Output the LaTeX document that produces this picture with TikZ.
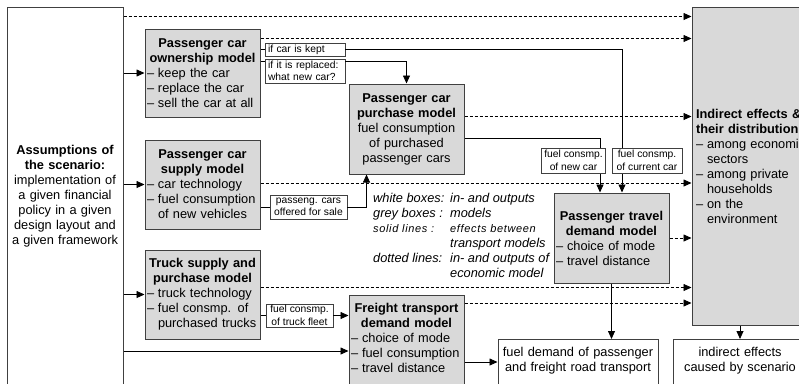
\documentclass[tikz,border=0pt]{standalone}
\usepackage{fontspec}
\setmainfont{Liberation Sans}
\usetikzlibrary{arrows.meta}

\definecolor{boxgray}{RGB}{64,64,64}
\definecolor{boxfill}{RGB}{217,217,217}

\newcommand{\mhead}[1]{{\centering\bfseries #1\par}}
\newcommand{\mitem}{\makebox[11pt][l]{--}}
\newcommand{\mcont}{\hspace*{11pt}}

\tikzset{
	model/.style={draw=boxgray, fill=boxfill, line width=1pt, inner sep=2pt,
		align=left, font=\fontsize{12.8}{15}\selectfont},
	io/.style={draw=boxgray, fill=white, line width=1pt, inner sep=2pt,
		align=center, font=\fontsize{12.8}{15}\selectfont},
	lab/.style={draw=boxgray, fill=white, line width=0.8pt, inner xsep=3pt, inner ysep=0.5pt,
		font=\fontsize{10.3}{12.5}\selectfont},
	arr/.style={line width=0.8pt, -{Triangle[length=8pt,width=7pt]}},
	flow/.style={line width=0.8pt},
	dline/.style={line width=0.8pt, dash pattern=on 3pt off 2pt, -{Triangle[length=8pt,width=7pt]}}
}

\begin{document}
\begin{tikzpicture}[x=1pt, y=-1pt]
	\useasboundingbox (0,0) rectangle (799,383);

	\node[io, text width=112pt, minimum width=116pt, minimum height=378pt] (assump) at (65,196)
		{\textbf{Assumptions of}\\\textbf{the scenario:}\\implementation of\\a given financial\\policy in a given\\design layout and\\a given framework};
	\node[model, text width=111pt, minimum width=115pt, minimum height=88pt] (own) at (202.5,73)
		{\mhead{Passenger car\\ownership model}\mitem keep the car\\\mitem replace the car\\\mitem sell the car at all};
	\node[model, text width=111pt, minimum width=115pt, minimum height=89pt] (sup) at (202.5,184.5)
		{\mhead{Passenger car\\supply model}\mitem car technology\\\mitem fuel consumption\\\mcont of new vehicles};
	\node[model, text width=111pt, minimum width=115pt, minimum height=89pt] (truck) at (202.5,294.5)
		{\mhead{Truck supply and\\purchase model}\mitem truck technology\\\mitem fuel consmp. of\\\mcont purchased trucks};
	\node[model, align=center, text width=111pt, minimum width=115pt, minimum height=90pt] (purch) at (406.5,129)
		{\textbf{Passenger car}\\\textbf{purchase model}\\fuel consumption\\of purchased\\passenger cars};
	\node[model, text width=111pt, minimum width=115pt, minimum height=90pt] (ptd) at (611.5,238)
		{\mhead{Passenger travel\\demand model}\mitem choice of mode\\\mitem travel distance};
	\node[model, text width=111pt, minimum width=115pt, anchor=north, text height=15pt, text depth=75pt] (freight) at (406.5,295)
		{\mhead{Freight transport\\demand model}\mitem choice of mode\\\mitem fuel consumption\\\mitem travel distance};
	\node[model, text width=150pt, minimum width=158pt, minimum height=318pt] (indir) at (771,166)
		{\textbf{Indirect effects \&}\\\textbf{their distribution}\\\mitem among economic\\\mcont sectors\\\mitem among private\\\mcont households\\\mitem on the\\\mcont environment};
	\node[io, text width=156pt, minimum width=160pt, anchor=north, text height=15pt, text depth=45pt] (fueldem) at (578,339)
		{fuel demand of passenger\\and freight road transport};
	\node[io, text width=130pt, minimum width=134pt, anchor=north, text height=15pt, text depth=45pt] (indres) at (740,339)
		{indirect effects\\caused by scenario};

	\node[lab, text width=74pt, align=left, minimum height=13pt] (kept) at (305,49.5) {if car is kept};
	\node[lab, text width=74pt, align=left, minimum height=24pt] (repl) at (305,71) {if it is replaced:\\what new car?};
	\node[lab, align=center, minimum width=77pt, minimum height=24pt] (offer) at (308.5,207) {passeng. cars\\offered for sale};
	\node[lab, align=center, minimum width=67pt, minimum height=23pt] (fleet) at (299.5,315.5) {fuel consmp.\\of truck fleet};

	\node[anchor=north west, inner sep=0pt, align=left, font=\itshape\fontsize{12.8}{15}\selectfont] (legend) at (373,193)
		{\makebox[77pt][l]{white boxes:}in- and outputs\\
		\makebox[77pt][l]{grey boxes :}models\\
		{\fontsize{11}{15}\selectfont\addfontfeatures{LetterSpace=6}\makebox[77pt][l]{solid lines :}effects between}\\
		\makebox[77pt][l]{}transport models\\
		\makebox[77pt][l]{dotted lines:}in- and outputs of\\
		\makebox[77pt][l]{}economic model};

	\draw[dline] ([yshift=-10pt]assump.north east) -- ([yshift=-10pt]assump.north east -| indir.west);
	\draw[arr] (assump.east |- own.west) -- (own.west);
	\draw[arr] (assump.east |- sup.west) -- (sup.west);
	\draw[arr] (assump.east |- truck.west) -- (truck.west);
	\draw[arr] ([yshift=-56pt]freight.north west -| assump.east) -- ([yshift=-56pt]freight.north west);

	\draw[dline] ([yshift=-10pt]own.north east) -- ([yshift=-10pt]own.north east -| indir.west);
	\draw[flow] (own.east |- kept.west) -- (kept.west);
	\draw[flow] ([yshift=-3pt]repl.north west -| own.east) -- ([yshift=-3pt]repl.north west);
	\draw[arr] (kept.east) -| ([xshift=10.5pt]ptd.north);
	\draw[arr] ([yshift=-3pt]repl.north east) -| (purch.north);

	\draw[dline] ([yshift=-33pt]purch.north east) -- ([yshift=-33pt]purch.north east -| indir.west);
	\draw[arr] ([yshift=-55pt]purch.north east) -| ([xshift=-11.5pt]ptd.north);

	\draw[dline] ([yshift=1.5pt]sup.east) -- ([yshift=1.5pt]sup.east -| indir.west);
	\draw[flow] (sup.east |- offer.west) -- (offer.west);
	\draw[arr] (offer.east) -| ([xshift=18pt]purch.south west);

	\draw[dline] ([yshift=-38pt]truck.north east) -- ([yshift=-38pt]truck.north east -| indir.west);
	\draw[flow] (truck.east |- fleet.west) -- (fleet.west);
	\draw[arr] (fleet.east) -- (fleet.east -| freight.west);

	\draw[dline] ([yshift=-8pt]freight.north east) -- ([yshift=-8pt]freight.north east -| indir.west);
	\draw[arr] ([yshift=-67pt]freight.north east) -- ([yshift=-67pt]freight.north east -| fueldem.west);

	\draw[dline] (ptd.east) -- (ptd.east -| indir.west);
	\draw[arr] (ptd.south) -- (ptd.south |- fueldem.north);
	\draw[arr] (indres.north |- indir.south) -- (indres.north);

	\node[lab, align=center, minimum width=64pt, minimum height=25pt] (newcar) at (573.5,160.5) {fuel consmp.\\of new car};
	\node[lab, align=center, minimum width=70pt, minimum height=25pt] (curcar) at (647,160.5) {fuel consmp.\\of current car};
\end{tikzpicture}
\end{document}
